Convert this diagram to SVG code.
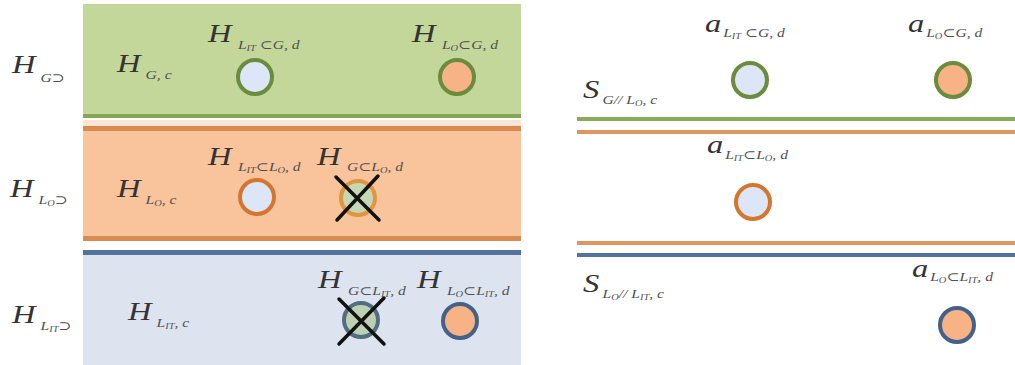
<svg xmlns="http://www.w3.org/2000/svg" width="1015" height="365" viewBox="0 0 1015 365">
<style>
.m{font-family:"Liberation Serif","DejaVu Serif",serif;font-style:italic;font-size:25px;fill:#333}
.s{font-family:"Liberation Serif","DejaVu Serif",serif;font-style:italic;font-size:12px;fill:#505050}
.ss{font-size:8px}
.cg{stroke:#6b8b3d;stroke-width:4}
.co{stroke:#d4762e;stroke-width:4}
.cb{stroke:#44618a;stroke-width:4}
.fb{fill:#dde6f6}
.fo{fill:#f7b385}
.x{stroke:#111;stroke-width:3.5;stroke-linecap:round}
</style>
<rect width="1015" height="365" fill="#fff"/>
<g id="band-G">
<rect x="83" y="4" width="438" height="111" fill="#c4d79b"/>
<rect x="83" y="114" width="438" height="4" fill="#86a655"/>
</g>
<g id="band-LO">
<rect x="83" y="120" width="438" height="6" fill="#fbe6d6"/>
<rect x="83" y="126" width="438" height="5" fill="#d98b52"/>
<rect x="83" y="131" width="438" height="106" fill="#f9c39b"/>
<rect x="83" y="236" width="438" height="5" fill="#d98b52"/>
</g>
<g id="band-LIT">
<rect x="83" y="250" width="438" height="5" fill="#52739b"/>
<rect x="83" y="255" width="438" height="110" fill="#dde4f0"/>
</g>
<g id="separators">
<rect x="577" y="117" width="438" height="4" fill="#8aab57"/>
<rect x="577" y="130" width="438" height="4" fill="#e0975f"/>
<rect x="577" y="241" width="438" height="4" fill="#e0975f"/>
<rect x="577" y="253" width="438" height="4" fill="#52739b"/>
</g>
<g id="labels-left">
<g transform="translate(12,73) scale(1.3,1)"><text class="m">H</text><text class="s" x="22" y="9">G⊃</text></g>
<g transform="translate(117,72) scale(1.3,1)"><text class="m">H</text><text class="s" x="22" y="7">G, c</text></g>
<g transform="translate(208,42) scale(1.3,1)"><text class="m">H</text><text class="s" x="23" y="7">L<tspan class="ss" dy="2">IT</tspan><tspan dy="-2"> ⊂G, d</tspan></text></g>
<g transform="translate(412,42) scale(1.3,1)"><text class="m">H</text><text class="s" x="23" y="7">L<tspan class="ss" dy="2">O</tspan><tspan dy="-2">⊂G, d</tspan></text></g>
<g transform="translate(10,197) scale(1.3,1)"><text class="m">H</text><text class="s" x="22" y="7">L<tspan class="ss" dy="2">O</tspan><tspan dy="-2">⊃</tspan></text></g>
<g transform="translate(117,197) scale(1.3,1)"><text class="m">H</text><text class="s" x="22" y="7">L<tspan class="ss" dy="2">O</tspan><tspan dy="-2">, c</tspan></text></g>
<g transform="translate(208,165) scale(1.3,1)"><text class="m">H</text><text class="s" x="23" y="6">L<tspan class="ss" dy="2">IT</tspan><tspan dy="-2">⊂L</tspan><tspan class="ss" dy="2">O</tspan><tspan dy="-2">, d</tspan></text></g>
<g transform="translate(317,165) scale(1.3,1)"><text class="m">H</text><text class="s" x="23" y="6">G⊂L<tspan class="ss" dy="2">O</tspan><tspan dy="-2">, d</tspan></text></g>
<g transform="translate(12,323) scale(1.3,1)"><text class="m">H</text><text class="s" x="22" y="7">L<tspan class="ss" dy="2">IT</tspan><tspan dy="-2">⊃</tspan></text></g>
<g transform="translate(128,320) scale(1.3,1)"><text class="m">H</text><text class="s" x="22" y="7">L<tspan class="ss" dy="2">IT</tspan><tspan dy="-2">, c</tspan></text></g>
<g transform="translate(318,288) scale(1.3,1)"><text class="m">H</text><text class="s" x="23" y="7">G⊂L<tspan class="ss" dy="2">IT</tspan><tspan dy="-2">, d</tspan></text></g>
<g transform="translate(417,288) scale(1.3,1)"><text class="m">H</text><text class="s" x="23" y="7">L<tspan class="ss" dy="2">O</tspan><tspan dy="-2">⊂L</tspan><tspan class="ss" dy="2">IT</tspan><tspan dy="-2">, d</tspan></text></g>
</g>
<g id="labels-right">
<g transform="translate(705,32) scale(1.3,1)"><text class="m">a</text><text class="s" x="14" y="5">L<tspan class="ss" dy="2">IT</tspan><tspan dy="-2"> ⊂G, d</tspan></text></g>
<g transform="translate(908,32) scale(1.3,1)"><text class="m">a</text><text class="s" x="14" y="5">L<tspan class="ss" dy="2">O</tspan><tspan dy="-2">⊂G, d</tspan></text></g>
<g transform="translate(583,98) scale(1.3,1)"><text class="m">S</text><text class="s" x="15" y="6">G// L<tspan class="ss" dy="2">O</tspan><tspan dy="-2">, c</tspan></text></g>
<g transform="translate(707,153) scale(1.3,1)"><text class="m">a</text><text class="s" x="14" y="6">L<tspan class="ss" dy="2">IT</tspan><tspan dy="-2">⊂L</tspan><tspan class="ss" dy="2">O</tspan><tspan dy="-2">, d</tspan></text></g>
<g transform="translate(583,292) scale(1.3,1)"><text class="m">S</text><text class="s" x="15" y="6">L<tspan class="ss" dy="2">O</tspan><tspan dy="-2">// L</tspan><tspan class="ss" dy="2">IT</tspan><tspan dy="-2">, c</tspan></text></g>
<g transform="translate(912,277) scale(1.3,1)"><text class="m">a</text><text class="s" x="14" y="4">L<tspan class="ss" dy="2">O</tspan><tspan dy="-2">⊂L</tspan><tspan class="ss" dy="2">IT</tspan><tspan dy="-2">, d</tspan></text></g>
</g>
<g id="node-LIT-in-G"><circle cx="255" cy="77" r="17" class="cg fb"/></g>
<g id="node-LO-in-G"><circle cx="457" cy="77" r="17" class="cg fo"/></g>
<g id="node-LIT-in-LO"><circle cx="257" cy="197" r="17" class="co fb"/></g>
<g id="node-G-in-LO"><circle cx="358" cy="198" r="17" fill="#c6d7b5" stroke="#e0963e" stroke-width="4"/><line x1="336" y1="177" x2="379" y2="220" class="x"/><line x1="378" y1="176" x2="337" y2="220" class="x"/></g>
<g id="node-G-in-LIT"><circle cx="361" cy="320" r="17" fill="#bcd0b4" stroke="#4f6e80" stroke-width="4"/><line x1="339" y1="299" x2="384" y2="344" class="x"/><line x1="384" y1="298" x2="339" y2="344" class="x"/></g>
<g id="node-LO-in-LIT"><circle cx="460" cy="321" r="17" class="cb fo"/></g>
<g id="node-a-LIT-G"><circle cx="750" cy="80" r="17" class="cg fb"/></g>
<g id="node-a-LO-G"><circle cx="953" cy="80" r="17" class="cg fo"/></g>
<g id="node-a-LIT-LO"><circle cx="753" cy="202" r="17" class="co fb"/></g>
<g id="node-a-LO-LIT"><circle cx="957" cy="325" r="17" class="cb fo"/></g>
</svg>
